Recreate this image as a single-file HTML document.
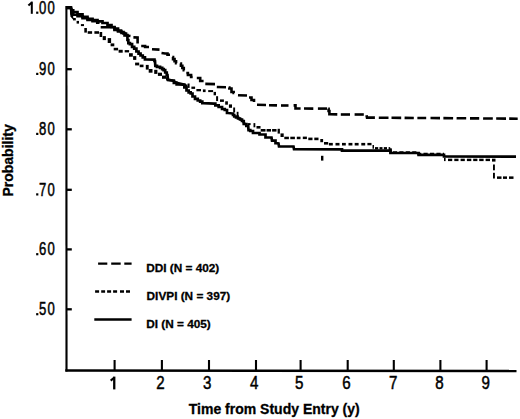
<!DOCTYPE html>
<html><head><meta charset="utf-8"><style>
html,body{margin:0;padding:0;background:#fff;}
svg{display:block;}
text{font-family:"Liberation Sans",sans-serif;fill:#000;}
.tk{stroke:#000;stroke-width:0.5px;}
.b{font-weight:bold;}
.lg{stroke:#000;stroke-width:0.3px;}
</style></head><body>
<svg width="520" height="419" viewBox="0 0 520 419">
<defs><clipPath id="dvc"><rect x="60" y="0" width="13.30" height="40.00"/><rect x="166" y="76" width="21.50" height="16.00"/><rect x="238.2" y="115" width="7.80" height="10.50"/></clipPath></defs>
<rect width="520" height="419" fill="#fff"/>
<g stroke="#000" stroke-width="2.2" fill="none">
<line x1="66.4" y1="6.1" x2="66.5" y2="371.5" stroke-width="2.1"/>
<rect x="65.8" y="6.1" width="5.4" height="3.3" fill="#000" stroke="none"/>
<line x1="65.3" y1="370.5" x2="516.5" y2="371" stroke-width="2.5"/>
<line x1="66" y1="69.2" x2="71.8" y2="69.2" stroke-width="2.3"/><line x1="66" y1="129.3" x2="71.8" y2="129.3" stroke-width="2.3"/><line x1="66" y1="189.8" x2="71.8" y2="189.8" stroke-width="2.3"/><line x1="66" y1="249.4" x2="71.8" y2="249.4" stroke-width="2.3"/><line x1="66" y1="309.3" x2="71.8" y2="309.3" stroke-width="2.3"/><line x1="114.6" y1="360" x2="114.6" y2="371" stroke-width="2.1"/><line x1="161.9" y1="360" x2="161.9" y2="371" stroke-width="2.1"/><line x1="209" y1="360" x2="209" y2="371" stroke-width="2.1"/><line x1="256" y1="360" x2="256" y2="371" stroke-width="2.1"/><line x1="300.6" y1="360" x2="300.6" y2="371" stroke-width="2.1"/><line x1="347.7" y1="360" x2="347.7" y2="371" stroke-width="2.1"/><line x1="393.8" y1="360" x2="393.8" y2="371" stroke-width="2.1"/><line x1="440.4" y1="360" x2="440.4" y2="371" stroke-width="2.1"/><line x1="486.6" y1="360" x2="486.6" y2="371" stroke-width="2.1"/>
</g>
<g fill="none" stroke="#000" stroke-linejoin="miter" stroke-linecap="butt">
<polyline points="66.00,7.50 71.00,7.50 71.40,10.30 73.20,10.30 73.20,12.00 75.00,12.00 77.50,12.00 77.50,14.40 80.00,14.40 82.50,14.40 82.50,16.80 85.00,16.80 87.50,16.80 87.50,18.80 90.00,18.80 92.50,18.80 92.50,20.00 95.00,20.00 97.50,20.00 97.50,21.30 100.00,21.30 102.50,21.30 102.50,23.00 105.00,23.00 107.50,23.00 107.50,25.10 110.00,25.10 111.50,25.10 111.50,27.00 113.00,27.00 114.50,27.00 114.50,28.50 116.00,28.50 118.00,28.50 118.00,30.50 120.00,30.50 121.00,30.50 121.00,32.00 122.00,32.00 123.50,32.00 123.50,33.50 125.00,33.50 126.00,33.50 126.00,35.00 127.00,35.00 127.45,35.00 127.45,40.00 127.90,40.00 128.35,40.00 128.35,43.10 128.80,43.10 129.90,43.10 129.90,44.10 131.00,44.10 132.05,44.10 132.05,46.90 133.10,46.90 134.20,46.90 134.20,48.70 135.30,48.70 136.40,48.70 136.40,51.50 137.50,51.50 138.55,51.50 138.55,53.70 139.60,53.70 140.55,53.70 140.55,55.50 141.50,55.50 142.75,55.50 142.75,57.40 144.00,57.40 144.95,57.40 144.95,59.30 145.90,59.30 153.90,59.60 154.45,59.60 154.45,61.00 155.00,61.00 155.30,65.90 156.95,65.90 156.95,66.80 158.60,66.80 160.05,66.80 160.05,67.80 161.50,67.80 162.20,67.80 162.20,69.20 162.90,69.20 163.65,69.20 163.65,70.20 164.40,70.20 165.20,70.20 165.20,72.50 166.00,72.50 166.75,72.50 166.75,75.00 167.50,75.00 168.00,80.00 172.40,80.50 173.85,80.50 173.85,82.80 175.30,82.80 176.65,82.80 176.65,84.30 178.00,84.30 183.20,84.60 184.35,84.60 184.35,87.50 185.50,87.50 186.50,87.50 186.50,90.50 187.50,90.50 188.65,90.50 188.65,92.30 189.80,92.30 190.65,92.30 190.65,93.50 191.50,93.50 192.50,93.50 192.50,96.50 193.50,96.50 195.00,96.50 195.00,98.80 196.50,98.80 197.75,98.80 197.75,100.50 199.00,100.50 200.15,100.50 200.15,101.70 201.30,101.70 202.30,101.70 202.30,103.20 203.30,103.20 214.00,103.70 215.35,103.70 215.35,105.30 216.70,105.30 218.65,105.30 218.65,107.00 220.60,107.00 222.05,107.00 222.05,109.00 223.50,109.00 224.75,109.00 224.75,110.00 226.00,110.00 227.00,110.00 227.00,113.00 228.00,113.00 232.50,113.50 233.00,113.50 233.00,115.00 233.50,115.00 234.25,115.00 234.25,116.50 235.00,116.50 236.00,116.50 236.00,117.50 237.00,117.50 238.00,117.50 238.00,118.50 239.00,118.50 240.00,118.50 240.00,119.50 241.00,119.50 242.00,119.50 242.00,121.00 243.00,121.00 243.75,121.00 243.75,124.00 244.50,124.00 246.35,124.00 246.35,126.00 248.20,126.00 248.50,130.20 250.25,130.20 250.25,131.00 252.00,131.00 253.00,131.00 253.00,133.00 254.00,133.00 259.50,133.00 259.50,134.50 265.00,134.50 265.50,134.50 265.50,137.40 266.00,137.40 271.50,137.50 272.00,140.60 275.00,140.60 275.50,140.60 275.50,143.20 276.00,143.20 278.50,143.50 279.00,146.50 293.50,146.50 294.00,149.20 342.00,149.40 342.00,150.60 390.50,150.50 390.50,153.00 418.60,153.00 418.60,154.90 444.00,154.90 444.00,156.50 516.00,156.60" stroke-width="2.7"/>
<polyline points="66.00,7.50 71.00,7.50 71.40,13.50 73.20,13.50 73.20,14.80 75.00,14.80 77.50,14.80 77.50,16.30 80.00,16.30 82.50,16.30 82.50,18.30 85.00,18.30 87.50,18.30 87.50,19.90 90.00,19.90 92.50,19.90 92.50,21.20 95.00,21.20 97.25,21.20 97.25,22.60 99.50,22.60" stroke-width="2.6"/>
<polyline points="100.70,27.30 112.80,27.30 114.40,27.30 114.40,30.00 116.00,30.00 118.00,30.00 118.00,31.50 120.00,31.50 121.50,31.50 121.50,33.00 123.00,33.00 124.50,33.00 124.50,35.50 126.00,35.50 130.50,36.00" stroke-width="2.6"/>
<polyline points="133.40,37.40 137.60,37.50 137.60,43.50" stroke-width="2.6"/><polyline points="141.20,46.00 145.10,46.00 145.10,47.00 149.00,47.00" stroke-width="2.6"/><polyline points="152.00,49.20 159.50,49.60" stroke-width="2.6"/><polyline points="161.50,53.00 165.00,53.50 167.50,53.50 167.50,54.80 170.00,54.80" stroke-width="2.6"/><polyline points="172.30,57.00 173.05,57.00 173.05,59.10 174.55,59.10 174.55,61.20 176.05,61.20 176.05,63.30 176.80,63.30" stroke-width="2.6"/><polyline points="180.20,63.50 180.92,63.50 180.92,65.77 182.35,65.77 182.35,68.03 183.78,68.03 183.78,70.30 184.50,70.30" stroke-width="2.6"/><polyline points="186.30,73.00 187.90,73.00 187.90,75.00 191.10,75.00 191.10,77.00 192.70,77.00" stroke-width="2.6"/><polyline points="196.80,78.00 200.20,78.00 200.20,81.00 203.60,81.00" stroke-width="2.6"/><polyline points="205.30,83.90 215.00,84.10" stroke-width="2.6"/><polyline points="216.80,87.00 226.00,87.20" stroke-width="2.6"/><polyline points="228.70,87.50 229.35,87.50 229.35,88.50 230.00,88.50 231.50,88.50 231.50,92.00 233.00,92.00 233.65,92.00 233.65,93.00 234.30,93.00" stroke-width="2.6"/><polyline points="238.00,95.20 247.00,95.50" stroke-width="2.6"/><polyline points="249.00,97.50 251.50,97.50 251.50,100.00 254.00,100.00 254.00,102.00" stroke-width="2.6"/><polyline points="257.00,104.80 266.00,105.00" stroke-width="2.6"/><polyline points="269.00,105.20 277.00,105.40" stroke-width="2.6"/><polyline points="281.00,105.50 288.50,105.50" stroke-width="2.6"/><polyline points="293.60,105.40 295.50,105.40 295.50,108.50 300.60,108.50" stroke-width="2.6"/><polyline points="304.00,108.50 313.30,108.60" stroke-width="2.6"/><polyline points="317.90,108.60 327.10,108.60" stroke-width="2.6"/><polyline points="328.20,108.70 328.60,108.70 328.60,111.00 329.00,111.00 329.40,111.00 329.40,114.30 329.80,114.30 337.30,114.40" stroke-width="2.6"/><polyline points="340.80,114.50 350.00,114.50" stroke-width="2.6"/><polyline points="354.60,114.50 363.80,114.50" stroke-width="2.6"/><polyline points="366.50,115.30 367.00,117.60 374.90,117.60" stroke-width="2.6"/><polyline points="378.80,117.69 388.50,117.76" stroke-width="2.6"/><polyline points="391.50,117.78 401.20,117.85" stroke-width="2.6"/><polyline points="404.60,117.87 413.80,117.94" stroke-width="2.6"/><polyline points="417.40,117.97 426.20,118.03" stroke-width="2.6"/><polyline points="430.50,118.06 440.00,118.13" stroke-width="2.6"/><polyline points="443.40,118.16 453.10,118.23" stroke-width="2.6"/><polyline points="456.60,118.25 466.20,118.32" stroke-width="2.6"/><polyline points="470.00,118.35 479.20,118.42" stroke-width="2.6"/><polyline points="483.10,118.45 492.80,118.52" stroke-width="2.6"/><polyline points="496.20,118.54 506.00,118.61" stroke-width="2.6"/><polyline points="509.20,118.64 517.70,118.70" stroke-width="2.6"/>
<polyline points="66.00,7.50 70.50,7.50 71.40,9.00 71.60,16.00 73.30,18.00 74.40,19.20 77.80,22.20 81.00,24.50 83.50,25.20 85.30,28.00 85.60,32.40 100.50,32.50 100.90,36.00 104.30,38.00 109.40,40.00 109.60,42.50 112.50,45.00 114.00,46.00 115.90,49.00 120.60,51.20 126.90,51.30 129.30,53.50 131.00,55.00 134.70,58.00 135.30,62.50 136.00,64.00 139.50,64.50 141.60,65.90 146.00,66.20 147.30,68.00 150.60,70.80 155.80,72.00 159.90,74.30 164.10,77.20 167.50,79.50 172.30,80.50 176.50,82.60 182.70,84.20 186.00,85.70 188.60,85.70 188.60,87.70 196.90,90.20 210.60,91.10 214.80,92.00 214.80,94.50 217.10,97.00 217.10,100.50 221.90,100.60 226.50,102.00 226.50,104.00 230.40,105.50 230.40,107.00 234.10,108.20 234.10,112.80 237.60,113.00 237.60,118.00 239.00,118.50 241.00,119.50 243.00,121.00 244.50,124.00 254.30,124.00 254.30,127.00 258.50,127.20 260.70,130.30 278.80,130.30 278.80,133.30 282.00,134.50 282.00,137.60 284.20,137.60" stroke-width="2.5" clip-path="url(#dvc)"/>
<g fill="#000" stroke="none"><rect x="73.00" y="18.00" width="2.80" height="2.40"/><rect x="76.60" y="20.90" width="2.40" height="2.70"/><rect x="80.90" y="24.10" width="3.10" height="2.00"/><rect x="84.30" y="28.00" width="2.60" height="4.60"/><rect x="87.70" y="31.20" width="4.40" height="2.60"/><rect x="94.40" y="31.20" width="4.60" height="2.60"/><rect x="99.60" y="32.00" width="2.60" height="5.00"/><rect x="102.70" y="36.10" width="3.20" height="4.00"/><rect x="107.70" y="38.10" width="3.40" height="4.90"/><rect x="110.60" y="43.40" width="3.70" height="2.90"/><rect x="113.70" y="47.80" width="4.40" height="2.60"/><rect x="118.60" y="49.80" width="4.10" height="2.90"/><rect x="124.70" y="50.10" width="4.40" height="2.30"/><rect x="129.00" y="53.20" width="3.80" height="3.50"/><rect x="133.10" y="56.10" width="3.20" height="3.80"/><rect x="135.10" y="62.60" width="4.10" height="2.80"/><rect x="139.70" y="64.60" width="3.80" height="2.60"/><rect x="145.80" y="64.90" width="2.90" height="4.70"/><rect x="148.70" y="69.00" width="3.80" height="3.70"/><rect x="154.20" y="69.80" width="3.20" height="4.10"/><rect x="157.90" y="72.70" width="4.10" height="3.20"/><rect x="162.00" y="75.60" width="4.30" height="3.20"/><rect x="187.60" y="83.50" width="2.00" height="4.40"/><rect x="191.40" y="86.60" width="3.70" height="2.30"/><rect x="196.40" y="89.00" width="4.60" height="2.30"/><rect x="202.90" y="89.40" width="2.70" height="2.70"/><rect x="208.20" y="90.10" width="4.90" height="2.00"/><rect x="213.60" y="91.90" width="2.40" height="3.40"/><rect x="216.10" y="96.20" width="2.00" height="4.90"/><rect x="220.00" y="99.40" width="3.90" height="2.50"/><rect x="225.20" y="101.30" width="2.70" height="3.40"/><rect x="228.90" y="104.40" width="3.10" height="3.40"/><rect x="233.20" y="107.50" width="1.90" height="4.90"/><rect x="236.70" y="111.80" width="1.80" height="6.20"/><rect x="247.50" y="123.10" width="3.10" height="2.00"/><rect x="253.50" y="123.10" width="1.80" height="4.20"/><rect x="256.50" y="126.00" width="4.00" height="2.60"/><rect x="260.70" y="129.00" width="4.80" height="2.60"/><rect x="266.60" y="129.00" width="4.40" height="2.60"/><rect x="272.10" y="129.00" width="4.40" height="2.60"/><rect x="277.60" y="128.80" width="2.30" height="4.80"/><rect x="280.50" y="133.40" width="3.20" height="3.60"/><rect x="284.30" y="136.70" width="4.60" height="2.50"/><rect x="290.30" y="136.70" width="4.60" height="2.50"/><rect x="296.80" y="136.70" width="3.70" height="2.50"/><rect x="302.80" y="136.60" width="4.10" height="2.50"/><rect x="308.30" y="137.60" width="4.20" height="2.60"/><rect x="314.30" y="137.60" width="4.20" height="2.60"/><rect x="320.30" y="139.00" width="2.80" height="3.20"/><rect x="324.00" y="142.00" width="4.20" height="2.60"/><rect x="328.90" y="142.90" width="3.90" height="2.60"/><rect x="335.50" y="142.90" width="4.00" height="2.60"/><rect x="342.00" y="142.90" width="3.80" height="2.60"/><rect x="348.50" y="142.90" width="3.90" height="2.60"/><rect x="354.70" y="142.90" width="3.90" height="2.60"/><rect x="361.30" y="142.90" width="3.90" height="2.60"/><rect x="367.40" y="142.90" width="4.10" height="2.40"/><rect x="372.50" y="145.00" width="1.50" height="3.70"/><rect x="375.00" y="147.10" width="3.20" height="2.40"/><rect x="379.50" y="147.10" width="3.00" height="2.40"/><rect x="383.80" y="147.10" width="3.20" height="2.40"/><rect x="388.60" y="147.10" width="1.60" height="3.70"/><rect x="444.00" y="157.80" width="1.60" height="3.30"/><rect x="448.00" y="158.70" width="4.20" height="2.40"/><rect x="454.30" y="158.70" width="4.20" height="2.40"/><rect x="460.60" y="158.70" width="4.20" height="2.40"/><rect x="466.90" y="158.70" width="4.40" height="2.40"/><rect x="473.20" y="158.70" width="4.20" height="2.40"/><rect x="479.20" y="158.70" width="4.40" height="2.40"/><rect x="485.60" y="158.70" width="4.40" height="2.40"/><rect x="492.00" y="158.70" width="3.50" height="2.90"/><rect x="493.00" y="164.50" width="1.90" height="5.80"/><rect x="493.00" y="172.80" width="1.90" height="5.70"/><rect x="497.00" y="176.40" width="4.50" height="2.50"/><rect x="503.00" y="176.40" width="4.00" height="2.50"/><rect x="509.00" y="176.40" width="4.50" height="2.50"/></g>
<polyline points="390.50,148.30 390.50,152.40 418.60,152.40 418.60,154.00 444.00,154.00" stroke-width="2.5" stroke-dasharray="4.2 2.25"/>
<rect x="321" y="155.8" width="2.4" height="4.8" fill="#000" stroke="none"/>
</g>
<rect x="36.15" y="11.60" width="2.2" height="2.2" fill="#000"/><text transform="translate(42.60,13.80) scale(0.72,1)" text-anchor="middle" style="font-size:18.2px" class="tk">0</text><text transform="translate(51.25,13.80) scale(0.72,1)" text-anchor="middle" style="font-size:18.2px" class="tk">0</text><rect x="36.15" y="72.80" width="2.2" height="2.2" fill="#000"/><text transform="translate(42.60,75.00) scale(0.72,1)" text-anchor="middle" style="font-size:18.2px" class="tk">9</text><text transform="translate(51.25,75.00) scale(0.72,1)" text-anchor="middle" style="font-size:18.2px" class="tk">0</text><rect x="36.15" y="132.80" width="2.2" height="2.2" fill="#000"/><text transform="translate(42.60,135.00) scale(0.72,1)" text-anchor="middle" style="font-size:18.2px" class="tk">8</text><text transform="translate(51.25,135.00) scale(0.72,1)" text-anchor="middle" style="font-size:18.2px" class="tk">0</text><rect x="36.15" y="193.30" width="2.2" height="2.2" fill="#000"/><text transform="translate(42.60,195.50) scale(0.72,1)" text-anchor="middle" style="font-size:18.2px" class="tk">7</text><text transform="translate(51.25,195.50) scale(0.72,1)" text-anchor="middle" style="font-size:18.2px" class="tk">0</text><rect x="36.15" y="253.10" width="2.2" height="2.2" fill="#000"/><text transform="translate(42.60,255.30) scale(0.72,1)" text-anchor="middle" style="font-size:18.2px" class="tk">6</text><text transform="translate(51.25,255.30) scale(0.72,1)" text-anchor="middle" style="font-size:18.2px" class="tk">0</text><rect x="36.15" y="313.10" width="2.2" height="2.2" fill="#000"/><text transform="translate(42.60,315.30) scale(0.72,1)" text-anchor="middle" style="font-size:18.2px" class="tk">5</text><text transform="translate(51.25,315.30) scale(0.72,1)" text-anchor="middle" style="font-size:18.2px" class="tk">0</text><rect x="30.80" y="1.60" width="2.0" height="12.20" fill="#000"/><line x1="31.90" y1="2.50" x2="28.40" y2="5.50" stroke="#000" stroke-width="2.1"/><rect x="113.10" y="376.60" width="2.3" height="12.80" fill="#000"/><line x1="114.36" y1="377.50" x2="110.70" y2="380.60" stroke="#000" stroke-width="2.1"/><text transform="translate(160.40,389.40) scale(0.84,1)" text-anchor="middle" style="font-size:18.0px" class="tk">2</text><text transform="translate(207.20,389.40) scale(0.84,1)" text-anchor="middle" style="font-size:18.0px" class="tk">3</text><text transform="translate(254.30,389.40) scale(0.84,1)" text-anchor="middle" style="font-size:18.0px" class="tk">4</text><text transform="translate(299.30,389.40) scale(0.84,1)" text-anchor="middle" style="font-size:18.0px" class="tk">5</text><text transform="translate(346.50,389.40) scale(0.84,1)" text-anchor="middle" style="font-size:18.0px" class="tk">6</text><text transform="translate(393.20,389.40) scale(0.84,1)" text-anchor="middle" style="font-size:18.0px" class="tk">7</text><text transform="translate(439.40,389.40) scale(0.84,1)" text-anchor="middle" style="font-size:18.0px" class="tk">8</text><text transform="translate(485.70,389.40) scale(0.84,1)" text-anchor="middle" style="font-size:18.0px" class="tk">9</text>
<text x="188.8" y="414" class="b lg" font-size="14">Time from Study Entry (y)</text>
<text transform="translate(12.5,196.6) rotate(-90)" class="b lg" font-size="14">Probability</text>
<g stroke="#000" fill="none" stroke-width="2.4">
<path d="M98.1,263.6H107.3M111.2,263.6H120.7M124.3,263.6H131.6"/>
<path d="M95.1,291.5H99.1M101.2,291.5H105.1M107.1,291.5H111.1M113.1,291.5H117.1M120,291.5H124M126,291.5H130" stroke-width="2.7"/>
<line x1="94.3" y1="319.5" x2="131.6" y2="319.5" stroke-width="2.6"/>
</g>
<text x="146.2" y="272.2" class="b lg" font-size="11.8">DDI (N = 402)</text>
<text x="146.6" y="299.5" class="b lg" font-size="11.8">DIVPI (N = 397)</text>
<text x="146.2" y="328" class="b lg" font-size="11.8">DI (N = 405)</text>
</svg>
</body></html>
